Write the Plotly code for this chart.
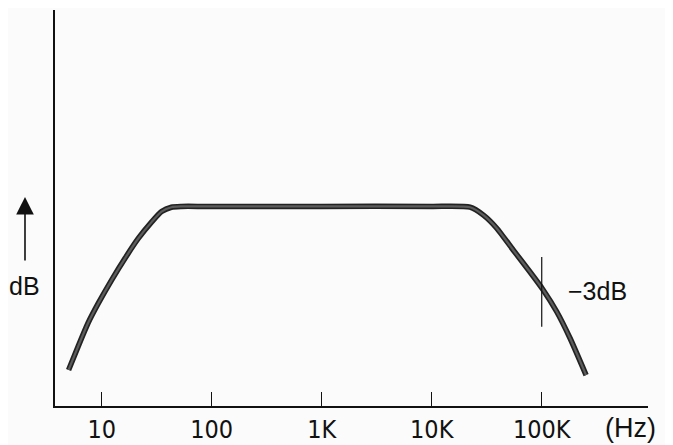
import plotly.graph_objects as go

# Frequency response (schematic)
freq_hz = [5.0, 6.1, 7.5, 9.3, 12.3, 16.3, 21.5, 28.5, 35, 43, 53, 87, 1000, 10000,
           22300, 29500, 39000, 55000, 78000, 102000, 137000, 181000, 253000]
level = [9.1, 15.0, 20.9, 25.9, 31.8, 37.3, 42.3, 46.5, 49.1, 50.2, 50.4, 50.4, 50.4, 50.4,
         50.2, 48.2, 44.9, 39.4, 33.9, 29.5, 23.8, 17.1, 7.8]

# -3 dB marker
marker_freq = [100000, 100000]
marker_level = [20.0, 37.6]

tick_vals = [10, 100, 1000, 10000, 100000]
tick_text = ["10", "100", "1K", "10K", "100K"]

fig = go.Figure()
fig.add_trace(go.Scatter(x=freq_hz, y=level, mode="lines",
                         line=dict(color="#222222", width=5.5, shape="spline", smoothing=0.6),
                         hoverinfo="skip"))
fig.add_trace(go.Scatter(x=freq_hz, y=level, mode="lines",
                         line=dict(color="#5c5c5c", width=2.2, shape="spline", smoothing=0.6),
                         hoverinfo="skip"))
fig.add_trace(go.Scatter(x=marker_freq, y=marker_level, mode="lines",
                         line=dict(color="#111111", width=1.2), hoverinfo="skip"))

fig.update_layout(
    width=665, height=437,
    margin=dict(l=47, r=25, t=2, b=39),
    paper_bgcolor="#fbfbfb", plot_bgcolor="#fbfbfb",
    showlegend=False,
    font=dict(family="Liberation Sans, Arial, sans-serif", color="#111111"),
)
fig.update_xaxes(
    type="log", range=[0.5755, 5.966],
    showgrid=False, zeroline=False,
    showline=True, linecolor="#111111", linewidth=2,
    tickmode="array", tickvals=tick_vals, ticktext=tick_text,
    ticks="inside", ticklen=14, tickwidth=1.2, tickcolor="#111111",
    tickfont=dict(family="Liberation Sans Narrow, DejaVu Sans Condensed, Liberation Sans, sans-serif",
                  size=25, color="#111111"),
)
fig.update_yaxes(
    range=[0, 100], showgrid=False, zeroline=False,
    showline=True, linecolor="#111111", linewidth=2,
    showticklabels=False, ticks="",
)

fig.add_annotation(xref="paper", yref="paper", x=-0.0506, y=0.303, text="dB",
                   showarrow=False, font=dict(size=25), xanchor="center", yanchor="middle")
fig.add_annotation(xref="paper", yref="paper", x=-0.0506, y=0.5278, text="",
                   showarrow=True, ax=0, ay=65, arrowhead=2, arrowsize=2.2,
                   arrowwidth=1.6, arrowcolor="#111111")
fig.add_annotation(xref="paper", yref="paper", x=0.8617, y=0.291, text="\u22123dB",
                   showarrow=False, font=dict(size=25), xanchor="left", yanchor="middle")
fig.add_annotation(xref="paper", yref="paper", x=0.9713, y=-0.0556, text="(Hz)",
                   showarrow=False, font=dict(size=27), xanchor="center", yanchor="middle")

fig.write_html("out.html")
